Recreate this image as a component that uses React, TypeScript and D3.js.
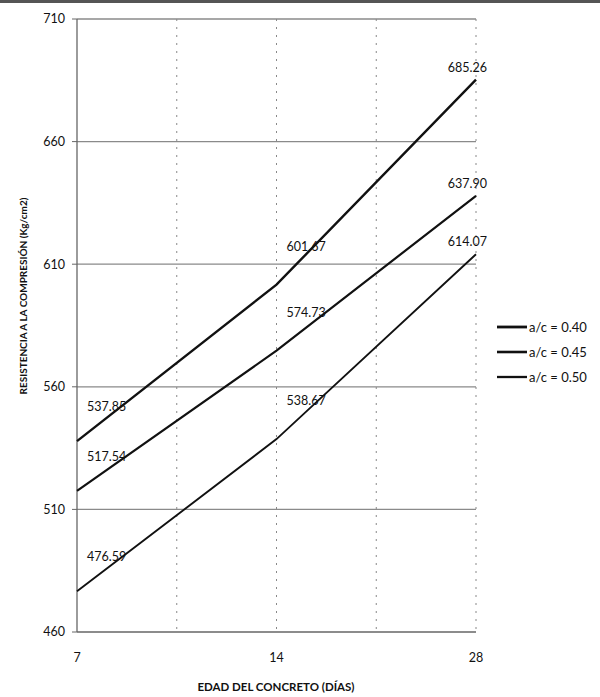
import React from "react";
import * as d3 from "d3";

const categories = ["7", "14", "28"];
const seriesNames = ["a/c = 0.40", "a/c = 0.45", "a/c = 0.50"];
const values040 = [537.85, 601.67, 685.26];
const values045 = [517.54, 574.73, 637.9];
const values050 = [476.59, 538.67, 614.07];
const yTicks = [460, 510, 560, 610, 660, 710];
const labels040 = ["537.85", "601.67", "685.26"];
const labels045 = ["517.54", "574.73", "637.90"];
const labels050 = ["476.59", "538.67", "614.07"];

const W = 600;
const H = 697;
const left = 77;
const right = 476;
const top = 19;
const bottom = 632;
const FONT = "Lato, 'Open Sans', 'DejaVu Sans', sans-serif";

export default function App() {
  const x = d3.scalePoint<string>().domain(categories).range([left, right]);
  const y = d3.scaleLinear().domain([460, 710]).range([bottom, top]);
  const line = d3
    .line<number>()
    .x((_, i) => x(categories[i]) as number)
    .y((d) => y(d));

  const series = [
    { name: seriesNames[0], values: values040, labels: labels040, width: 2.4 },
    { name: seriesNames[1], values: values045, labels: labels045, width: 2.2 },
    { name: seriesNames[2], values: values050, labels: labels050, width: 1.9 },
  ];
  const step = x.step();
  const vGrid: number[] = [];
  for (let i = 0; i < categories.length - 1; i++) {
    const px = x(categories[i]) as number;
    vGrid.push(px + step / 2, px + step);
  }

  return (
    <div style={{ position: "absolute", left: 0, top: 0 }}>
      <svg width={W} height={H} style={{ display: "block", background: "#fff" }}>
        <line x1={0} x2={W} y1={1.5} y2={1.5} stroke="#555" strokeWidth={3} />
        {/* horizontal gridlines */}
        {yTicks.slice(1).map((t) => (
          <line key={t} x1={left} x2={right} y1={y(t)} y2={y(t)} stroke="#8a8a8a" strokeWidth={1.3} />
        ))}
        {/* vertical dotted gridlines */}
        {vGrid.map((g, i) => (
          <line key={i} x1={g} x2={g} y1={top} y2={bottom} stroke="#888" strokeWidth={1} strokeDasharray="2,6" />
        ))}
        {/* axes */}
        <line x1={left} x2={left} y1={top} y2={bottom} stroke="#666" strokeWidth={1.3} />
        <line x1={left} x2={right} y1={bottom} y2={bottom} stroke="#666" strokeWidth={1.5} />
        {yTicks.map((t) => (
          <g key={t}>
            <line x1={left - 5} x2={left} y1={y(t)} y2={y(t)} stroke="#666" />
            <text x={left - 12} y={y(t)} dy="0.35em" textAnchor="end" fontFamily={FONT} fontSize={12.5} fill="#111">
              {t}
            </text>
          </g>
        ))}
        {categories.map((c) => (
          <text key={c} x={x(c) as number} y={662} textAnchor="middle" fontFamily={FONT} fontSize={12.5} fill="#111">
            {c}
          </text>
        ))}
        {/* lines */}
        {series.map((s) => (
          <path key={s.name} d={line(s.values) as string} fill="none" stroke="#111" strokeWidth={s.width} />
        ))}
        {/* data labels */}
        {series.map((s) =>
          s.values.map((v, i) => {
            const px = x(categories[i]) as number;
            const last = i === categories.length - 1;
            const dyOff = last ? -8 : i === 0 ? -30 : -34;
            return (
              <text
                key={s.name + i}
                x={last ? px + 11 : px + 10}
                y={y(v) + dyOff}
                textAnchor={last ? "end" : "start"}
                fontFamily={FONT}
                fontSize={12.5}
                fill="#111"
              >
                {s.labels[i]}
              </text>
            );
          })
        )}
        {/* legend */}
        {series.map((s, i) => (
          <g key={s.name} transform={`translate(497, ${327 + i * 25})`}>
            <line x1={0} x2={30} y1={0} y2={0} stroke="#111" strokeWidth={s.width + 0.4} />
            <text x={32} y={0} dy="0.35em" fontFamily={FONT} fontSize={13} fill="#111">
              {s.name}
            </text>
          </g>
        ))}
        {/* axis titles */}
        <text x={276} y={691} textAnchor="middle" fontFamily={FONT} fontSize={11.5} fontWeight="bold" fill="#111">
          EDAD DEL CONCRETO (DÍAS)
        </text>
        <text
          transform={`translate(27, 296) rotate(-90)`}
          textAnchor="middle"
          fontFamily={FONT}
          fontSize={10}
          fontWeight="bold"
          fill="#111"
        >
          RESISTENCIA A LA COMPRESIÓN (Kg/cm2)
        </text>
      </svg>
    </div>
  );
}
